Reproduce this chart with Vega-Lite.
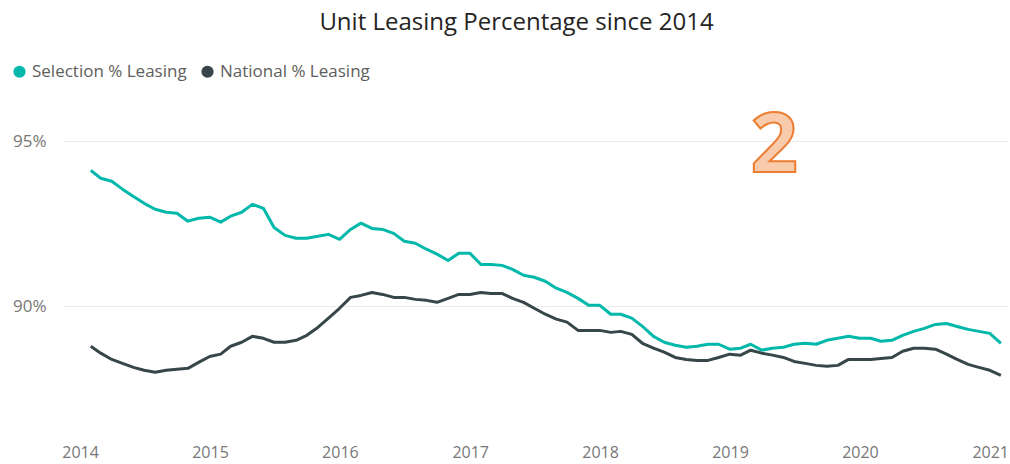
{
  "$schema": "https://vega.github.io/schema/vega-lite/v6.json",
  "width": 945,
  "height": 330,
  "autosize": "none",
  "padding": {"left": 63, "top": 105, "right": 2, "bottom": 29},
  "background": "white",
  "title": {"text": "Unit Leasing Percentage since 2014", "fontSize": 24, "font": "Open Sans", "fontWeight": "normal", "color": "#252423", "anchor": "middle", "dx": -19, "offset": 28},
  "config": {"view": {"stroke": null}, "font": "Open Sans"},
  "layer": [
    {
      "data": {"values": [
        {"date": "2014-01-31", "Selection % Leasing": 94.12, "National % Leasing": 88.79},
        {"date": "2014-02-28", "Selection % Leasing": 93.88, "National % Leasing": 88.58},
        {"date": "2014-03-31", "Selection % Leasing": 93.79, "National % Leasing": 88.39},
        {"date": "2014-04-30", "Selection % Leasing": 93.55, "National % Leasing": 88.27},
        {"date": "2014-05-31", "Selection % Leasing": 93.33, "National % Leasing": 88.15},
        {"date": "2014-06-30", "Selection % Leasing": 93.12, "National % Leasing": 88.06},
        {"date": "2014-07-31", "Selection % Leasing": 92.94, "National % Leasing": 88.00},
        {"date": "2014-08-31", "Selection % Leasing": 92.85, "National % Leasing": 88.06},
        {"date": "2014-09-30", "Selection % Leasing": 92.82, "National % Leasing": 88.09},
        {"date": "2014-10-31", "Selection % Leasing": 92.58, "National % Leasing": 88.12},
        {"date": "2014-11-30", "Selection % Leasing": 92.67, "National % Leasing": 88.30},
        {"date": "2014-12-31", "Selection % Leasing": 92.70, "National % Leasing": 88.48},
        {"date": "2015-01-31", "Selection % Leasing": 92.55, "National % Leasing": 88.55},
        {"date": "2015-02-28", "Selection % Leasing": 92.73, "National % Leasing": 88.79},
        {"date": "2015-03-31", "Selection % Leasing": 92.85, "National % Leasing": 88.91},
        {"date": "2015-04-30", "Selection % Leasing": 93.09, "National % Leasing": 89.09},
        {"date": "2015-05-31", "Selection % Leasing": 92.97, "National % Leasing": 89.03},
        {"date": "2015-06-30", "Selection % Leasing": 92.39, "National % Leasing": 88.91},
        {"date": "2015-07-31", "Selection % Leasing": 92.15, "National % Leasing": 88.91},
        {"date": "2015-08-31", "Selection % Leasing": 92.06, "National % Leasing": 88.97},
        {"date": "2015-09-30", "Selection % Leasing": 92.06, "National % Leasing": 89.12},
        {"date": "2015-10-31", "Selection % Leasing": 92.12, "National % Leasing": 89.36},
        {"date": "2015-11-30", "Selection % Leasing": 92.18, "National % Leasing": 89.64},
        {"date": "2015-12-31", "Selection % Leasing": 92.03, "National % Leasing": 89.94},
        {"date": "2016-01-31", "Selection % Leasing": 92.33, "National % Leasing": 90.27},
        {"date": "2016-02-29", "Selection % Leasing": 92.52, "National % Leasing": 90.33},
        {"date": "2016-03-31", "Selection % Leasing": 92.36, "National % Leasing": 90.42},
        {"date": "2016-04-30", "Selection % Leasing": 92.33, "National % Leasing": 90.36},
        {"date": "2016-05-31", "Selection % Leasing": 92.21, "National % Leasing": 90.27},
        {"date": "2016-06-30", "Selection % Leasing": 91.97, "National % Leasing": 90.27},
        {"date": "2016-07-31", "Selection % Leasing": 91.91, "National % Leasing": 90.21},
        {"date": "2016-08-31", "Selection % Leasing": 91.73, "National % Leasing": 90.18},
        {"date": "2016-09-30", "Selection % Leasing": 91.58, "National % Leasing": 90.12},
        {"date": "2016-10-31", "Selection % Leasing": 91.39, "National % Leasing": 90.24},
        {"date": "2016-11-30", "Selection % Leasing": 91.61, "National % Leasing": 90.36},
        {"date": "2016-12-31", "Selection % Leasing": 91.61, "National % Leasing": 90.36},
        {"date": "2017-01-31", "Selection % Leasing": 91.27, "National % Leasing": 90.42},
        {"date": "2017-02-28", "Selection % Leasing": 91.27, "National % Leasing": 90.39},
        {"date": "2017-03-31", "Selection % Leasing": 91.24, "National % Leasing": 90.39},
        {"date": "2017-04-30", "Selection % Leasing": 91.12, "National % Leasing": 90.24},
        {"date": "2017-05-31", "Selection % Leasing": 90.94, "National % Leasing": 90.12},
        {"date": "2017-06-30", "Selection % Leasing": 90.88, "National % Leasing": 89.94},
        {"date": "2017-07-31", "Selection % Leasing": 90.76, "National % Leasing": 89.76},
        {"date": "2017-08-31", "Selection % Leasing": 90.55, "National % Leasing": 89.61},
        {"date": "2017-09-30", "Selection % Leasing": 90.42, "National % Leasing": 89.52},
        {"date": "2017-10-31", "Selection % Leasing": 90.24, "National % Leasing": 89.27},
        {"date": "2017-11-30", "Selection % Leasing": 90.03, "National % Leasing": 89.27},
        {"date": "2017-12-31", "Selection % Leasing": 90.03, "National % Leasing": 89.27},
        {"date": "2018-01-31", "Selection % Leasing": 89.76, "National % Leasing": 89.21},
        {"date": "2018-02-28", "Selection % Leasing": 89.76, "National % Leasing": 89.24},
        {"date": "2018-03-31", "Selection % Leasing": 89.64, "National % Leasing": 89.15},
        {"date": "2018-04-30", "Selection % Leasing": 89.39, "National % Leasing": 88.88},
        {"date": "2018-05-31", "Selection % Leasing": 89.09, "National % Leasing": 88.73},
        {"date": "2018-06-30", "Selection % Leasing": 88.91, "National % Leasing": 88.61},
        {"date": "2018-07-31", "Selection % Leasing": 88.82, "National % Leasing": 88.45},
        {"date": "2018-08-31", "Selection % Leasing": 88.76, "National % Leasing": 88.39},
        {"date": "2018-09-30", "Selection % Leasing": 88.79, "National % Leasing": 88.36},
        {"date": "2018-10-31", "Selection % Leasing": 88.85, "National % Leasing": 88.36},
        {"date": "2018-11-30", "Selection % Leasing": 88.85, "National % Leasing": 88.45},
        {"date": "2018-12-31", "Selection % Leasing": 88.70, "National % Leasing": 88.55},
        {"date": "2019-01-31", "Selection % Leasing": 88.73, "National % Leasing": 88.52},
        {"date": "2019-02-28", "Selection % Leasing": 88.85, "National % Leasing": 88.67},
        {"date": "2019-03-31", "Selection % Leasing": 88.67, "National % Leasing": 88.58},
        {"date": "2019-04-30", "Selection % Leasing": 88.73, "National % Leasing": 88.52},
        {"date": "2019-05-31", "Selection % Leasing": 88.76, "National % Leasing": 88.45},
        {"date": "2019-06-30", "Selection % Leasing": 88.85, "National % Leasing": 88.33},
        {"date": "2019-07-31", "Selection % Leasing": 88.88, "National % Leasing": 88.27},
        {"date": "2019-08-31", "Selection % Leasing": 88.85, "National % Leasing": 88.21},
        {"date": "2019-09-30", "Selection % Leasing": 88.97, "National % Leasing": 88.18},
        {"date": "2019-10-31", "Selection % Leasing": 89.03, "National % Leasing": 88.21},
        {"date": "2019-11-30", "Selection % Leasing": 89.09, "National % Leasing": 88.39},
        {"date": "2019-12-31", "Selection % Leasing": 89.03, "National % Leasing": 88.39},
        {"date": "2020-01-31", "Selection % Leasing": 89.03, "National % Leasing": 88.39},
        {"date": "2020-02-29", "Selection % Leasing": 88.94, "National % Leasing": 88.42},
        {"date": "2020-03-31", "Selection % Leasing": 88.97, "National % Leasing": 88.45},
        {"date": "2020-04-30", "Selection % Leasing": 89.12, "National % Leasing": 88.64},
        {"date": "2020-05-31", "Selection % Leasing": 89.24, "National % Leasing": 88.73},
        {"date": "2020-06-30", "Selection % Leasing": 89.33, "National % Leasing": 88.73},
        {"date": "2020-07-31", "Selection % Leasing": 89.45, "National % Leasing": 88.70},
        {"date": "2020-08-31", "Selection % Leasing": 89.48, "National % Leasing": 88.55},
        {"date": "2020-09-30", "Selection % Leasing": 89.39, "National % Leasing": 88.39},
        {"date": "2020-10-31", "Selection % Leasing": 89.30, "National % Leasing": 88.24},
        {"date": "2020-11-30", "Selection % Leasing": 89.24, "National % Leasing": 88.15},
        {"date": "2020-12-31", "Selection % Leasing": 89.18, "National % Leasing": 88.06},
        {"date": "2021-01-31", "Selection % Leasing": 88.88, "National % Leasing": 87.91}
      ]},
      "transform": [{"fold": ["Selection % Leasing", "National % Leasing"], "as": ["series", "value"]}],
      "mark": {"type": "line", "strokeWidth": 3, "strokeJoin": "round"},
      "encoding": {
        "x": {
          "field": "date", "type": "temporal",
          "scale": {"type": "utc", "domain": [{"year": 2013, "month": 11, "date": 14, "utc": true}, {"year": 2021, "month": 2, "date": 20, "utc": true}]},
          "axis": {
            "title": null, "grid": false, "domain": false, "ticks": false,
            "values": [{"year": 2014, "utc": true}, {"year": 2015, "utc": true}, {"year": 2016, "utc": true}, {"year": 2017, "utc": true}, {"year": 2018, "utc": true}, {"year": 2019, "utc": true}, {"year": 2020, "utc": true}, {"year": 2021, "utc": true}],
            "labelExpr": "utcFormat(datum.value, '%Y')",
            "labelFontSize": 16, "labelColor": "#777777", "labelPadding": 9, "labelFlush": false, "labelOverlap": false
          }
        },
        "y": {
          "field": "value", "type": "quantitative",
          "scale": {"domain": [86.1, 96.1], "zero": false, "nice": false},
          "axis": {
            "title": null, "domain": false, "ticks": false, "values": [90, 95],
            "labelExpr": "datum.value + '%'",
            "grid": true, "gridColor": "#eaeaea", "gridWidth": 1,
            "labelFontSize": 17, "labelColor": "#777777", "labelPadding": 17
          }
        },
        "color": {
          "field": "series", "type": "nominal",
          "scale": {"domain": ["Selection % Leasing", "National % Leasing"], "range": ["#01B8AA", "#374649"]},
          "legend": {
            "title": null, "orient": "none", "legendX": -52, "legendY": -42, "direction": "horizontal",
            "symbolType": "circle", "symbolSize": 150, "symbolStrokeWidth": 0,
            "labelFontSize": 17, "labelColor": "#605E5C", "labelOffset": 4, "columnPadding": 12,
            "encode": {"symbols": {"update": {"fill": {"scale": "color", "field": "value"}, "fillOpacity": {"value": 1}}}}
          }
        }
      }
    },
    {
      "data": {"values": [{"date": "2019-05-05", "value": 94.06, "label": "2"}]},
      "mark": {"type": "text", "font": "Open Sans", "fontSize": 83, "fontWeight": "bold", "fill": "#F8CBAD", "stroke": "#ED7D31", "strokeWidth": 2, "align": "center", "baseline": "alphabetic"},
      "encoding": {
        "x": {"field": "date", "type": "temporal"},
        "y": {"field": "value", "type": "quantitative"},
        "text": {"field": "label"}
      }
    }
  ]
}
